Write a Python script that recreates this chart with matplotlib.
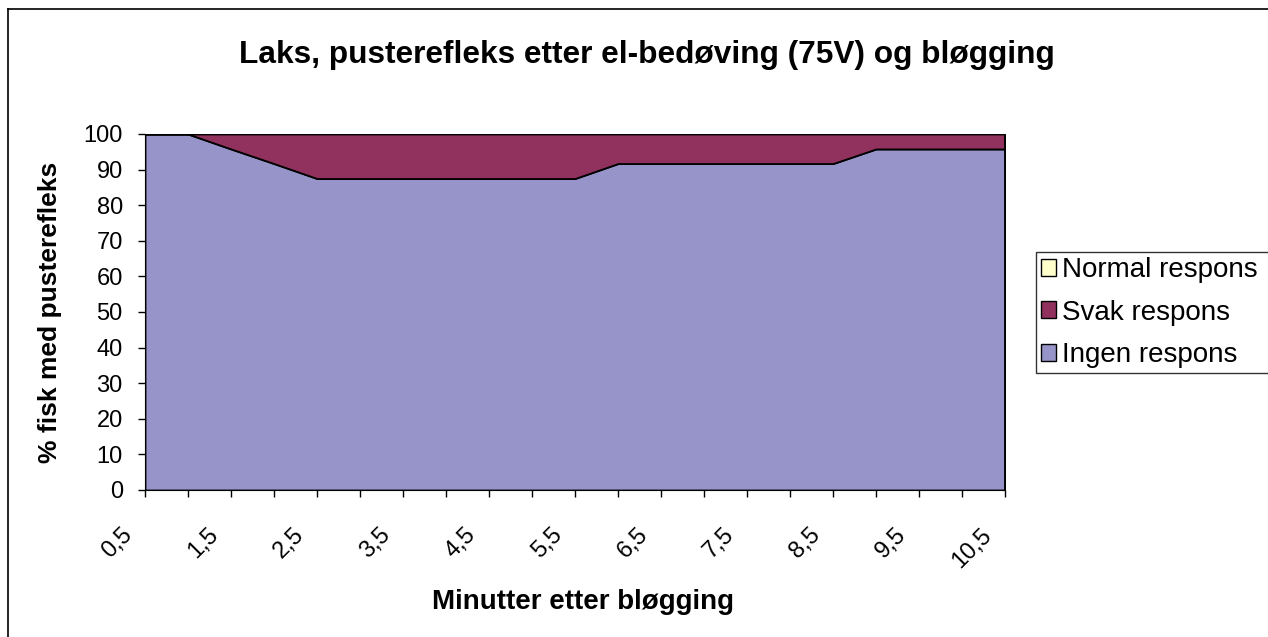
import numpy as np
import matplotlib.pyplot as plt
import matplotlib.transforms as mtransforms
from matplotlib.patches import Patch
from matplotlib.lines import Line2D

plt.rcParams['font.family'] = ['Liberation Sans', 'DejaVu Sans']

# minutter etter bløgging
minutter = ['0,5', '1', '1,5', '2', '2,5', '3', '3,5', '4', '4,5', '5', '5,5',
            '6', '6,5', '7', '7,5', '8', '8,5', '9', '9,5', '10', '10,5']
ingen = [100, 100, 95.8, 91.7, 87.5, 87.5, 87.5, 87.5, 87.5, 87.5, 87.5,
         91.7, 91.7, 91.7, 91.7, 91.7, 91.7, 95.8, 95.8, 95.8, 95.8]
svak = [0, 0, 4.2, 8.3, 12.5, 12.5, 12.5, 12.5, 12.5, 12.5, 12.5,
        8.3, 8.3, 8.3, 8.3, 8.3, 8.3, 4.2, 4.2, 4.2, 4.2]
normal = [0] * 21

farge_ingen = '#9694C8'
farge_svak = '#91325E'
farge_normal = '#FFFFCC'

fig = plt.figure(figsize=(12.68, 6.37), dpi=100)
ax = fig.add_axes([145/1268, 1 - 490/637, 860/1268, 356/637])

x = np.arange(len(minutter))
ax.stackplot(x, ingen, svak, normal,
             colors=[farge_ingen, farge_svak, farge_normal],
             edgecolor='black', linewidth=1.3)
ax.plot([x[-1], x[-1]], [0, 100], color='black', lw=1.3)

ax.set_xlim(0, len(minutter) - 1)
ax.set_ylim(0, 100)
ax.set_yticks(np.arange(0, 101, 10))
ax.set_xticks(x)
ax.set_xticklabels([m if i % 2 == 0 else '' for i, m in enumerate(minutter)],
                   rotation=45, ha='right', va='top', rotation_mode='anchor')
ax.tick_params(axis='both', labelsize=17, length=5, direction='out', width=1)
ax.tick_params(axis='y', pad=11)
ax.tick_params(axis='x', pad=0)
offset = mtransforms.ScaledTranslation(-0.24, -0.27, fig.dpi_scale_trans)
for lab in ax.get_xticklabels():
    lab.set_transform(lab.get_transform() + offset)
for s in ['top', 'right']:
    ax.spines[s].set_visible(False)

fig.text(583/1268, 1 - 602/637, 'Minutter etter bløgging', ha='center', va='center',
         fontsize=20, fontweight='bold')
fig.text(50/1268, 1 - 312/637, '% fisk med pusterefleks', ha='center', va='center',
         rotation=90, fontsize=19, fontweight='bold')
fig.text(647/1268, 1 - 55/637, 'Laks, pusterefleks etter el-bedøving (75V) og bløgging',
         ha='center', va='center', fontsize=22.8, fontweight='bold')

handles = [Patch(facecolor=farge_normal, edgecolor='black', label='Normal respons'),
           Patch(facecolor=farge_svak, edgecolor='black', label='Svak respons'),
           Patch(facecolor=farge_ingen, edgecolor='black', label='Ingen respons')]
leg = fig.legend(handles=handles, loc='upper left',
                 bbox_to_anchor=(1036/1268, 1 - 368/637, 260/1268, 116/637), mode='expand',
                 fontsize=20, frameon=True, fancybox=False, edgecolor='black',
                 handlelength=0.55, handleheight=0.55, handletextpad=0.2,
                 borderpad=0.18, labelspacing=0.6, borderaxespad=0)
leg.get_frame().set_linewidth(1)

# ramme rundt diagrammet (bare venstre og topp synlig)
fig.add_artist(Line2D([8/1268, 8/1268], [0, 1 - 9/637], transform=fig.transFigure,
                      color='black', lw=1.2))
fig.add_artist(Line2D([8/1268, 1], [1 - 9/637, 1 - 9/637], transform=fig.transFigure,
                      color='black', lw=1.2))

fig.savefig('out.png', dpi=100)
